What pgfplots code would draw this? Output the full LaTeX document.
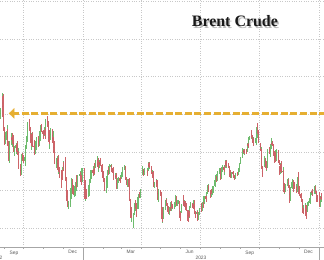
\documentclass[border=0pt]{standalone}
\usepackage{pgfplots}
\pgfplotsset{compat=1.18}
\usepackage{pgfplotstable}
\usepackage{fontspec}
\setmainfont{Liberation Serif}
\setsansfont{Liberation Sans}
\definecolor{upc}{RGB}{110,188,110}
\definecolor{dnc}{RGB}{205,100,105}
\definecolor{gold}{RGB}{230,175,50}
\definecolor{gridc}{RGB}{200,200,200}
\definecolor{lblc}{RGB}{90,90,90}

\pgfplotstableread{
x o h l c
-129 101.2 101.9 98.6 99.3
-128 99.4 101.6 98.9 101.0
-125 101.0 105.6 100.4 105.1
-124 105.0 105.3 98.7 99.3
-123 99.6 100.3 95.6 96.5
-122 96.2 96.7 91.9 92.4
-121 92.6 95.3 92.2 93.0
-118 93.4 97.2 93.0 95.7
-117 95.6 96.1 91.8 92.8
-116 92.5 92.9 87.7 88.0
-115 88.2 89.9 87.1 89.2
-114 89.3 93.0 89.2 92.8
-111 93.0 95.1 91.9 94.0
-110 94.0 95.0 92.2 93.2
-109 93.1 94.8 91.3 94.1
-108 93.9 94.6 90.2 90.8
-107 90.8 91.7 89.1 91.4
-104 91.2 92.4 89.5 92.0
-103 92.0 92.3 90.0 90.6
-102 90.7 93.1 89.3 89.8
-101 89.8 91.1 88.5 90.5
-100 90.1 90.3 85.7 86.2
-97 86.2 86.9 83.7 84.1
-96 84.3 86.6 84.0 86.3
-95 86.5 89.6 85.6 89.3
-94 88.8 89.9 87.6 88.5
-93 88.6 89.4 87.3 88.0
-90 87.7 89.2 86.5 88.9
-89 89.0 92.0 88.8 91.8
-88 91.6 93.9 91.0 93.4
-87 93.4 94.6 92.7 94.4
-86 94.5 98.1 94.3 97.9
-83 97.9 98.8 95.6 96.2
-82 96.1 96.6 93.6 94.3
-81 94.1 94.9 91.6 92.5
-80 92.4 95.0 90.6 94.6
-79 94.5 95.4 91.3 91.6
-76 91.8 93.4 90.9 91.6
-75 91.4 92.4 89.4 90.0
-74 90.3 93.0 89.6 92.4
-73 92.3 94.0 91.2 92.4
-72 92.1 93.8 90.6 93.5
-69 93.6 94.2 91.3 93.3
-68 93.2 94.3 91.6 93.5
-67 93.6 96.0 92.9 95.7
-66 95.6 97.2 95.1 97.0
-65 96.8 97.4 95.3 95.8
-62 95.6 96.0 93.8 94.8
-61 94.9 95.8 93.5 94.7
-60 94.8 96.8 94.4 96.2
-59 96.0 96.4 93.6 94.7
-58 94.7 98.8 94.4 98.6
-55 98.6 99.6 96.8 97.9
-54 97.8 98.2 94.8 95.4
-53 95.3 95.8 92.3 92.7
-52 92.6 94.2 91.0 93.7
-51 93.7 96.4 93.3 96.0
-48 95.9 96.2 92.6 93.1
-47 93.2 95.6 91.5 93.9
-46 93.7 94.1 92.1 92.9
-45 92.8 93.0 89.5 89.8
-44 89.7 90.2 86.9 87.6
-41 87.5 88.6 85.8 87.5
-40 87.4 89.1 86.7 88.4
-39 88.5 89.2 84.7 85.4
-38 85.3 86.1 84.4 85.3
-37 85.4 86.2 83.1 83.6
-34 83.4 85.4 80.6 83.2
-33 83.3 85.3 82.6 83.0
-32 83.1 86.2 82.6 85.4
-31 85.6 87.7 85.2 86.9
-30 86.9 87.5 85.1 85.6
-27 86.4 88.8 82.4 82.7
-26 82.7 83.4 79.1 79.4
-25 79.3 80.1 76.8 77.2
-24 77.1 78.1 75.6 76.2
-23 76.1 77.1 75.1 76.1
-20 76.2 78.4 75.5 78.0
-19 78.1 81.4 77.8 80.7
-18 80.6 83.3 79.6 82.7
-17 82.6 83.0 80.3 81.2
-16 81.3 81.4 78.8 79.0
-13 79.2 81.1 78.3 79.8
-12 79.7 80.6 78.6 80.0
-11 80.1 82.6 79.8 82.2
-10 82.3 83.9 80.6 81.0
-9 80.9 84.1 80.9 83.9
-5 84.0 85.2 83.2 84.3
-4 84.3 84.7 82.3 83.3
-3 83.4 84.0 81.5 82.3
-2 82.4 86.0 82.1 85.9
2 85.9 86.0 81.9 82.1
3 82.1 82.6 77.6 77.8
4 77.9 79.3 77.2 78.7
5 78.7 80.3 77.6 78.6
8 78.8 81.3 78.3 79.7
9 79.8 80.7 78.6 80.1
10 80.2 82.9 79.8 82.7
11 82.8 84.3 82.0 84.0
12 84.0 85.4 82.9 85.3
15 85.3 85.6 83.8 84.5
16 84.4 86.5 83.8 85.9
17 86.0 87.1 84.4 85.0
18 84.9 86.3 84.0 86.2
19 86.2 87.9 85.9 87.6
22 87.6 89.1 87.1 88.2
23 88.1 88.5 85.6 86.1
24 86.1 86.8 84.8 86.1
25 86.2 88.0 86.0 87.5
26 87.4 88.4 86.4 86.7
29 86.7 86.9 84.7 84.9
30 84.8 85.6 83.3 84.5
31 84.4 85.2 82.6 82.8
32 82.8 83.3 81.4 82.2
33 82.1 83.1 79.7 79.9
36 80.0 81.4 79.2 81.0
37 81.0 83.9 80.6 83.7
38 83.7 85.3 83.1 85.1
39 85.0 86.2 84.0 84.5
40 84.6 86.9 84.2 86.4
43 86.3 86.9 85.0 86.6
44 86.5 86.7 84.9 85.6
45 85.5 85.9 84.5 85.4
46 85.4 86.1 84.7 85.1
47 85.0 85.2 82.6 83.0
50 83.1 84.6 83.0 84.1
51 84.0 84.5 82.6 83.1
52 83.1 83.4 80.3 80.6
53 80.7 82.5 80.4 82.2
54 82.1 83.5 81.8 83.2
57 83.3 83.5 81.9 82.5
58 82.6 84.1 82.2 83.9
59 83.8 84.8 83.0 84.3
60 84.2 85.1 83.5 84.8
61 84.9 86.1 83.7 85.8
64 85.7 86.7 85.4 86.2
65 86.1 86.5 83.2 83.3
66 83.4 83.6 82.0 82.7
67 82.6 83.2 81.3 81.6
68 81.5 83.0 80.9 82.8
71 82.9 83.3 79.8 80.8
72 80.6 81.1 77.2 77.5
73 77.5 77.8 72.7 73.7
74 73.8 75.4 71.7 74.7
75 74.7 75.7 72.6 73.0
78 72.9 74.0 70.1 73.8
79 73.9 75.9 73.4 75.3
80 75.4 77.1 74.4 76.7
81 76.6 77.4 75.0 75.9
82 75.8 76.5 72.9 75.0
85 75.1 78.4 75.0 78.1
86 78.0 79.0 77.2 78.7
87 78.6 79.4 77.9 78.3
88 78.4 79.4 77.9 79.3
89 79.2 80.2 78.8 79.8
92 84.1 86.4 83.9 84.9
93 85.0 85.5 83.8 84.9
94 84.8 85.8 84.1 85.0
95 85.0 85.6 84.3 85.1
99 85.1 85.4 83.8 84.2
100 84.3 85.8 83.9 85.6
101 85.6 87.5 85.2 87.3
102 87.2 87.5 85.8 86.1
103 86.1 86.9 85.6 86.3
106 86.2 86.4 84.3 84.8
107 84.8 85.3 83.9 84.8
108 84.7 85.0 82.6 83.1
109 83.0 83.4 80.9 81.1
110 81.1 82.2 80.6 81.7
113 81.6 82.9 81.3 82.7
114 82.7 82.8 80.5 80.8
115 80.8 81.1 77.4 77.7
116 77.6 78.7 77.0 78.4
117 78.4 80.2 78.1 79.5
120 79.5 80.0 78.6 79.3
121 79.2 79.4 74.9 75.3
122 75.2 75.7 71.6 72.3
123 72.3 73.5 71.3 72.5
124 72.6 75.6 72.3 75.3
127 75.4 77.3 74.8 77.0
128 77.0 77.9 76.6 77.4
129 77.4 77.6 75.9 76.4
130 76.3 76.5 74.4 75.0
131 74.9 75.8 73.8 74.2
134 74.2 75.7 73.5 75.2
135 75.2 75.6 74.5 74.9
136 74.9 77.2 74.6 77.0
137 77.0 77.2 75.4 75.9
138 75.9 76.4 75.1 75.6
141 75.6 76.2 75.0 76.0
142 76.0 77.2 75.5 76.8
143 76.9 78.7 76.8 78.4
144 78.3 78.4 75.9 76.3
145 76.3 77.4 75.8 77.0
148 77.0 77.4 76.3 77.1
149 77.0 77.2 73.3 73.5
150 73.5 74.3 71.9 72.7
151 72.7 74.6 72.4 74.3
152 74.3 76.3 74.1 76.1
155 77.5 78.7 75.9 76.7
156 76.6 77.1 75.5 76.3
157 76.3 77.5 75.8 77.0
158 77.0 77.2 75.6 76.0
159 76.0 76.5 74.5 74.8
162 74.7 74.8 71.6 71.8
163 71.9 74.6 71.8 74.3
164 74.3 74.5 72.9 73.2
165 73.2 75.9 72.6 75.7
166 75.7 76.9 75.2 76.6
169 76.6 76.7 75.3 76.1
170 76.1 76.4 75.0 75.9
171 75.9 77.3 75.5 77.1
172 77.1 77.3 73.9 74.1
173 74.1 74.6 72.6 73.9
176 73.9 74.9 73.7 74.2
177 74.2 74.4 71.9 72.3
178 72.3 74.3 72.1 74.0
179 74.0 74.6 73.5 74.3
180 74.3 75.4 73.9 74.9
183 75.2 76.5 74.2 74.7
185 74.7 76.9 74.4 76.7
186 76.6 76.9 75.2 76.5
187 76.5 78.6 76.4 78.5
190 78.4 78.5 77.0 77.7
191 77.7 79.5 77.5 79.4
192 79.4 80.4 78.9 80.1
193 80.1 81.7 79.9 81.4
194 81.4 81.5 79.6 79.9
197 79.8 80.0 78.0 78.5
198 78.5 79.8 78.3 79.6
199 79.6 80.2 78.9 79.5
200 79.5 80.0 78.8 79.6
201 79.6 81.2 79.2 81.1
204 81.1 82.9 80.8 82.7
205 82.7 83.9 82.4 83.6
206 83.6 83.7 82.1 82.9
207 82.9 84.4 82.5 84.2
208 84.2 85.1 83.7 85.0
211 85.0 85.8 84.4 85.6
212 85.6 85.8 84.1 84.9
213 84.9 85.1 82.6 83.2
214 83.2 85.5 83.0 85.1
215 85.1 86.6 84.8 86.2
218 86.2 86.5 84.9 85.3
219 85.3 86.6 84.0 86.2
220 86.2 88.1 86.0 87.6
221 87.6 88.0 86.1 86.4
222 86.4 87.1 85.8 86.8
225 86.8 87.1 85.9 86.2
226 86.2 86.3 84.5 84.9
227 84.9 85.3 83.2 83.5
228 83.5 84.6 83.1 84.1
229 84.1 84.9 83.3 84.8
232 84.8 85.0 83.6 84.5
233 84.5 84.8 83.3 84.0
234 84.0 84.1 82.6 83.2
235 83.2 84.2 82.9 83.4
236 83.4 84.6 82.9 84.5
239 84.5 84.9 83.8 84.4
240 84.4 85.8 84.1 85.5
241 85.5 86.0 84.8 85.9
242 85.9 87.2 85.7 86.9
243 86.9 88.8 86.8 88.6
247 88.6 91.2 88.4 90.0
248 90.0 91.0 89.5 90.6
249 90.6 90.9 89.6 89.9
250 89.9 90.8 89.3 90.7
253 90.7 91.0 89.7 90.6
254 90.6 92.4 90.1 92.1
255 92.1 92.4 91.1 91.9
256 91.9 94.0 91.5 93.7
257 93.7 94.3 93.2 93.9
260 93.9 95.0 93.6 94.4
261 94.4 95.9 93.7 94.3
262 94.3 94.5 92.5 93.5
263 93.5 93.9 91.8 93.3
264 93.3 94.0 92.6 93.3
267 93.3 93.8 92.6 93.3
268 93.3 94.0 91.9 94.0
269 94.0 97.0 93.7 96.6
270 96.6 97.7 94.9 95.4
271 95.4 95.8 92.5 95.3
274 92.3 92.6 90.3 90.7
275 90.7 91.4 89.7 90.9
276 90.9 91.0 85.6 85.8
277 85.8 86.5 83.4 84.1
278 84.1 85.0 83.6 84.6
281 86.4 89.0 86.2 88.2
282 88.2 88.4 86.8 87.7
283 87.7 87.8 85.4 85.8
284 85.8 87.2 85.1 86.0
285 86.0 91.0 85.9 90.9
288 90.9 91.3 89.5 89.7
289 89.7 90.4 88.8 89.9
290 89.9 92.3 89.7 91.5
291 91.5 93.8 90.8 92.4
292 92.4 93.1 91.6 92.2
295 92.2 92.3 89.1 89.8
296 89.8 90.4 87.1 88.1
297 88.1 90.5 87.8 90.1
298 90.1 90.2 87.5 87.9
299 87.9 90.8 87.7 90.5
302 90.5 90.6 87.1 87.5
303 87.5 88.1 86.6 87.4
304 85.1 86.3 84.1 84.6
305 84.6 87.2 84.4 86.9
306 86.9 87.6 84.6 84.9
309 84.9 86.2 84.5 85.2
310 85.2 85.4 81.3 81.6
311 81.6 81.9 79.3 79.5
312 79.5 81.0 79.1 80.0
313 80.0 81.6 79.6 81.4
316 81.4 82.9 81.0 82.5
317 82.5 83.3 81.7 82.5
318 82.5 82.9 80.6 81.2
319 81.2 81.3 76.6 77.4
320 77.4 80.9 77.2 80.6
323 80.6 82.5 80.3 82.3
324 82.3 83.0 81.7 82.5
325 82.5 82.8 79.6 82.0
327 82.0 82.1 80.2 80.6
330 80.6 81.2 79.2 80.0
331 80.0 81.8 79.6 81.7
332 81.7 83.5 81.5 83.1
333 83.1 84.7 80.4 82.8
334 80.9 81.0 78.4 78.9
337 78.9 79.2 77.8 78.0
338 78.0 78.6 76.8 77.2
339 77.2 77.6 74.1 74.3
340 74.3 75.2 73.8 74.1
341 74.1 76.2 73.9 75.8
344 75.8 76.6 75.1 76.0
345 76.0 76.1 72.3 73.2
346 73.2 74.4 72.6 74.3
347 74.3 77.0 74.2 76.6
348 76.6 77.1 75.9 76.6
351 76.6 78.3 76.4 78.0
352 78.0 79.6 77.8 79.2
353 79.2 79.8 78.7 79.7
354 79.7 80.3 78.6 79.4
355 79.4 80.2 78.8 79.1
359 79.1 81.5 78.9 81.1
360 81.1 81.2 79.3 79.7
361 79.7 79.9 78.1 78.4
362 78.4 78.7 76.8 77.0
366 77.0 79.4 75.6 75.9
367 75.9 78.4 75.6 78.3
368 78.3 79.2 77.4 77.6
369 77.6 79.1 76.9 78.8
}\ohlc

\pgfplotsset{
  candle/.style 2 args={only marks, mark=none, mark size=0pt,
    mark options={draw=none, fill=none}, forget plot,
    error bars/.cd, y dir=both, y explicit, error mark=none,
    error mark options={draw=none},
    error bar style={draw=#1, line width=#2, line cap=butt}},
}

\begin{document}
\begin{tikzpicture}
\useasboundingbox (0,-13bp) rectangle (324bp,247bp);
\begin{axis}[
  at={(0,0)}, anchor=south west,
  width=324bp, height=247bp, scale only axis,
  xmin=-128.5, xmax=373, ymin=65, ymax=130.26,
  axis lines*=left,
  axis line style={-, draw=gray!70, line width=0.5pt},
  y axis line style={draw=none},
  ytick={70,80,90,100,110,120,130}, yticklabels={},
  ytick style={draw=none},
  ymajorgrids, xmajorgrids,
  grid style={dotted, gridc, line width=0.5pt},
  xtick={-92,0,90,181,273,365}, xticklabels={},
  minor xtick={-122,-61,-31,31,59,120,151,212,243,304,334},
  tick align=outside,
  major tick length=1.8bp, minor tick length=1.8bp,
  x tick style={draw=gray!70, line width=0.4pt},
  extra x ticks={-107,-16,74,165,258,349},
  extra x tick labels={Sep,Dec,Mar,Jun,Sep,Dec},
  extra x tick style={grid=none, major tick length=0pt},
  xticklabel style={font=\sffamily\fontsize{4.9}{5}\selectfont, text=lblc, inner sep=0pt, yshift=-3.4bp},
  clip=true,
]
% up candles: wicks, then bodies
\addplot[candle={upc}{0.3pt}]
  table[x=x, y expr={\thisrow{c}>=\thisrow{o} ? (\thisrow{h}+\thisrow{l})/2 : nan},
        y error expr={(\thisrow{h}-\thisrow{l})/2}] {\ohlc};
\addplot[candle={upc}{0.95pt}]
  table[x=x, y expr={\thisrow{c}>=\thisrow{o} ? (\thisrow{o}+\thisrow{c})/2 : nan},
        y error expr={max(abs(\thisrow{c}-\thisrow{o})/2,0.08)}] {\ohlc};
% down candles
\addplot[candle={dnc}{0.3pt}]
  table[x=x, y expr={\thisrow{c}<\thisrow{o} ? (\thisrow{h}+\thisrow{l})/2 : nan},
        y error expr={(\thisrow{h}-\thisrow{l})/2}] {\ohlc};
\addplot[candle={dnc}{0.95pt}]
  table[x=x, y expr={\thisrow{c}<\thisrow{o} ? (\thisrow{o}+\thisrow{c})/2 : nan},
        y error expr={max(abs(\thisrow{c}-\thisrow{o})/2,0.08)}] {\ohlc};
% dashed level line
\addplot[gold, line width=3bp, dash pattern=on 7bp off 2.6bp, forget plot]
  coordinates {(-110,100.3) (380,100.3)};
\addplot[gold, fill=gold, forget plot, line width=0.3bp]
  coordinates {(-114.5,100.3) (-106.5,101.6) (-106.5,99.0) (-114.5,100.3)};
% title with shadow
\node[anchor=base, font=\bfseries\fontsize{16}{18}\selectfont, text=black!45, opacity=0.6]
  at ([xshift=1.5bp,yshift=-1.5bp]axis description cs:0.725,0.891) {Brent Crude};
\node[anchor=base, font=\bfseries\fontsize{16}{18}\selectfont, text=black!90]
  at (axis description cs:0.725,0.891) {Brent Crude};
\end{axis}
\begin{scope}[x=0.6464bp, shift={(83bp,0)}]
\draw[gray!70, line width=0.4pt] (0,0) -- (0,-13bp);
\draw[gray!70, line width=0.4pt] (365,0) -- (365,-13bp);
\node[anchor=base, font=\sffamily\fontsize{4.9}{5}\selectfont, text=lblc, inner sep=0pt] at (182.5,-12.3bp) {2023};
\node[anchor=base east, font=\sffamily\fontsize{4.9}{5}\selectfont, text=lblc, inner sep=0pt] at (-124.3,-12.3bp) {2022};
\end{scope}
\end{tikzpicture}
\end{document}
